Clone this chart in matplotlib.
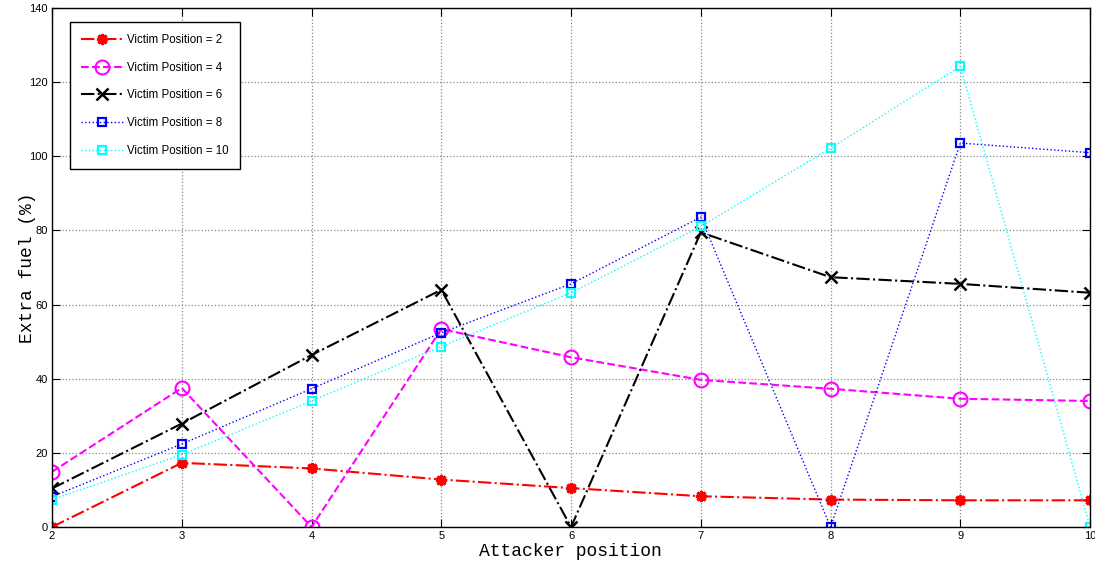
import matplotlib
matplotlib.use("Agg")
import matplotlib.pyplot as plt

attacker = [2, 3, 4, 5, 6, 7, 8, 9, 10]

victim2 = [0, 17.3, 15.8, 12.8, 10.5, 8.3, 7.4, 7.2, 7.2]
victim4 = [14.9, 37.5, 0, 53.4, 45.8, 39.7, 37.3, 34.6, 34.0]
victim6 = [10.4, 27.9, 46.4, 64.0, 0, 79.5, 67.4, 65.6, 63.2]
victim8 = [8.2, 22.4, 37.3, 52.4, 65.6, 83.6, 0, 103.6, 101.0]
victim10 = [7.4, 19.5, 34.0, 48.7, 63.2, 81.1, 102.2, 124.3, 0]

plt.rcParams['font.family'] = ['Liberation Sans', 'DejaVu Sans']

fig = plt.figure(figsize=(10.95, 5.64), dpi=100)
ax = fig.add_axes([0.0475, 0.0656, 0.948, 0.920])

ax.plot(attacker, victim2, color='red', linestyle='-.', linewidth=1.5,
        marker=(8, 2, 0), markersize=8, markeredgewidth=2.2, label='Victim Position = 2')
ax.plot(attacker, victim4, color='magenta', linestyle='--', linewidth=1.5,
        marker='o', markersize=10, markerfacecolor='none', markeredgewidth=1.5,
        label='Victim Position = 4')
ax.plot(attacker, victim6, color='black', linestyle='-.', linewidth=1.5,
        marker='x', markersize=8, markeredgewidth=1.8, label='Victim Position = 6')
ax.plot(attacker, victim8, color='blue', linestyle=':', linewidth=1.0,
        marker='s', markersize=6, markerfacecolor='none', markeredgewidth=1.6,
        label='Victim Position = 8')
ax.plot(attacker, victim10, color='cyan', linestyle=':', linewidth=1.0,
        marker='s', markersize=6, markerfacecolor='none', markeredgewidth=1.6,
        label='Victim Position = 10')

ax.set_xlim(2, 10)
ax.set_ylim(0, 140)
ax.set_xticks(attacker)
ax.set_yticks(range(0, 141, 20))
ax.tick_params(direction='in', length=6, labelsize=8, top=True, right=True, pad=3)
ax.grid(True, linestyle=':', color='#888888', linewidth=0.9)
for sp in ax.spines.values():
    sp.set_linewidth(1.0)

ax.set_xlabel('Attacker position', family='Liberation Mono', fontsize=13)
ax.set_ylabel('Extra fuel (%)', family='Liberation Mono', fontsize=13)
ax.xaxis.set_label_coords(0.499, -0.030)
ax.yaxis.set_label_coords(-0.015, 0.5)

leg = ax.legend(loc='upper left', bbox_to_anchor=(0.0173, 0.973), borderaxespad=0,
                fontsize=8.3, fancybox=False, edgecolor='black', framealpha=1,
                handlelength=3.6, labelspacing=1.38, borderpad=1.0, handletextpad=0.35)
leg.get_frame().set_linewidth(1.0)

fig.savefig('out.png', dpi=100)
